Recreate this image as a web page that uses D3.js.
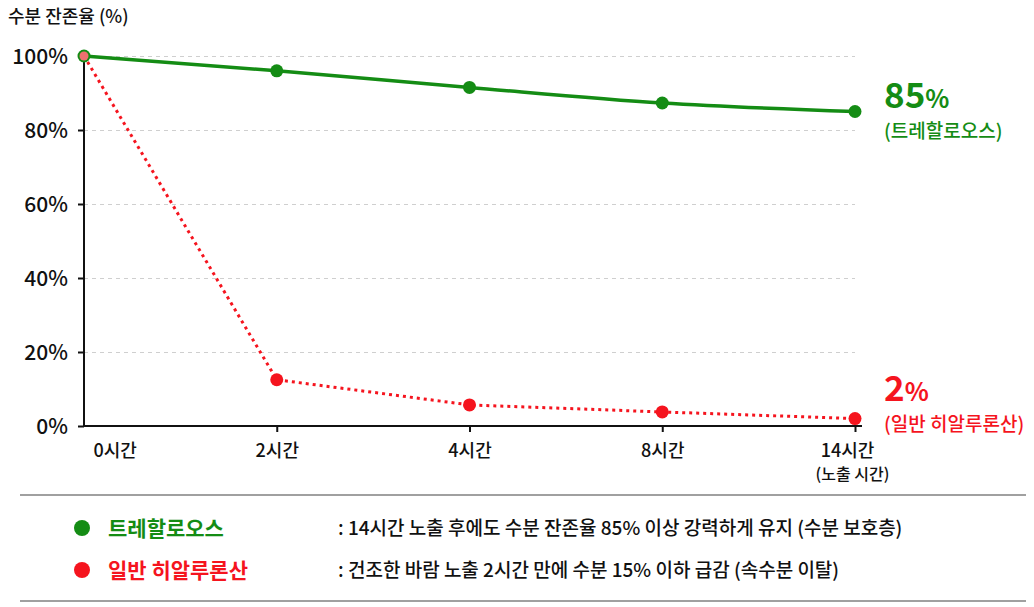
<!DOCTYPE html>
<html>
<head>
<meta charset="utf-8">
<script src="https://cdn.jsdelivr.net/npm/d3@7"></script>
<style>
    body { margin: 0; background: #fff; font-family: "Noto Sans CJK KR", "Noto Sans", sans-serif; }
    .grid line { stroke: #cfcfcf; stroke-dasharray: 4 4; }
    .grid path { display: none; }
    .axis path, .axis line { stroke: #111; stroke-width: 2; }
    .axis text { fill: #111; font-family: "Noto Sans CJK KR", sans-serif; font-weight: 500; }
</style>
</head>
<body>
<div id="chart"></div>
<script>
// Data
const times = ['0시간', '2시간', '4시간', '8시간', '14시간'];
const trehalose = [100, 96, 91.5, 87.3, 85];
const hyaluronic = [100, 12.5, 5.7, 3.8, 2];
const yTicks = [0, 20, 40, 60, 80, 100];
const seriesNames = ['트레할로오스', '일반 히알루론산'];
const seriesNotes = [
    ': 14시간 노출 후에도 수분 잔존율 85% 이상 강력하게 유지 (수분 보호층)',
    ': 건조한 바람 노출 2시간 만에 수분 15% 이하 급감 (속수분 이탈)'
];

const WIDTH = 1034, HEIGHT = 607;
const MARGIN = { left: 84, top: 56, right: 179, bottom: 181 };
const GREEN = '#148c14';
const RED = '#f5141e';

const svg = d3.select('#chart').append('svg')
    .attr('width', WIDTH)
    .attr('height', HEIGHT);

const width = WIDTH - MARGIN.left - MARGIN.right;
const height = HEIGHT - MARGIN.top - MARGIN.bottom;

const g = svg.append('g')
    .attr('transform', `translate(${MARGIN.left},${MARGIN.top})`);

// Scales
const x = d3.scalePoint()
    .domain(times)
    .range([0, width]);

const y = d3.scaleLinear()
    .domain([0, 100])
    .range([height, 0]);

// Grid lines
g.append('g')
    .attr('class', 'grid')
    .call(d3.axisLeft(y)
        .tickValues(yTicks.filter(d => d > 0))
        .tickSize(-width)
        .tickFormat(''));

// Y axis
const yAxis = g.append('g')
    .attr('class', 'axis')
    .call(d3.axisLeft(y)
        .tickValues(yTicks)
        .tickSize(6)
        .tickPadding(10)
        .tickFormat(d => d + '%'));
yAxis.select('.domain').attr('d', `M0,${height}V0`);
yAxis.selectAll('text').style('font-size', '21px').attr('dy', '0.36em');

// X axis
const xAxis = g.append('g')
    .attr('class', 'axis')
    .attr('transform', `translate(0,${height})`)
    .call(d3.axisBottom(x)
        .tickSize(6)
        .tickPadding(12));
xAxis.select('.domain').attr('d', `M0,0H${width + 7}`);
xAxis.selectAll('text').style('font-size', '18px');
const firstTick = xAxis.selectAll('.tick').filter(d => d === times[0]);
firstTick.select('line').remove();
firstTick.select('text').attr('x', 9).style('text-anchor', 'start');
const lastTick = xAxis.selectAll('.tick').filter(d => d === times[times.length - 1]);
lastTick.select('text').attr('x', -8);
lastTick.append('text')
    .attr('x', -3)
    .attr('y', 43)
    .attr('dy', '0.71em')
    .attr('fill', '#111')
    .style('font-size', '16px')
    .text('(노출 시간)');

// Axis title
svg.append('text')
    .attr('x', 8)
    .attr('y', 23)
    .attr('fill', '#111')
    .style('font-size', '18px')
    .style('font-weight', 500)
    .text('수분 잔존율 (%)');

// Lines
const greenData = times.map((t, i) => ({ t, v: trehalose[i] }));
const redData = times.map((t, i) => ({ t, v: hyaluronic[i] }));

const line = d3.line()
    .x(d => x(d.t))
    .y(d => y(d.v));

g.append('path')
    .datum(greenData)
    .attr('d', line.curve(d3.curveMonotoneX))
    .attr('fill', 'none')
    .attr('stroke', GREEN)
    .attr('stroke-width', 3.5);

g.append('path')
    .datum(redData)
    .attr('d', line.curve(d3.curveLinear))
    .attr('fill', 'none')
    .attr('stroke', RED)
    .attr('stroke-width', 3)
    .attr('stroke-dasharray', '3 4');

// Dots
g.selectAll('.dot-green')
    .data(greenData)
    .enter().append('circle')
    .attr('cx', d => x(d.t))
    .attr('cy', d => y(d.v))
    .attr('r', 6.5)
    .attr('fill', GREEN);

g.selectAll('.dot-red')
    .data(redData)
    .enter().append('circle')
    .attr('cx', d => x(d.t))
    .attr('cy', d => y(d.v))
    .attr('r', (d, i) => i === 0 ? 4.5 : 6.5)
    .attr('fill', (d, i) => i === 0 ? '#f07070' : RED);

// End labels
const endLabels = [
    { v: trehalose[trehalose.length - 1], name: seriesNames[0], color: GREEN, dy: 0 },
    { v: hyaluronic[hyaluronic.length - 1], name: seriesNames[1], color: RED, dy: -14 }
];
endLabels.forEach(l => {
    const lab = g.append('g')
        .attr('transform', `translate(${width + 29}, ${y(l.v) + l.dy})`);
    const big = lab.append('text')
        .attr('y', -4)
        .attr('fill', l.color)
        .style('font-weight', 'bold');
    big.append('tspan').style('font-size', '35px').text(Math.round(l.v));
    big.append('tspan').style('font-size', '25px').text('%');
    lab.append('text')
        .attr('y', 26)
        .attr('fill', l.color)
        .style('font-size', '19px')
        .style('font-weight', 500)
        .text(`(${l.name})`);
});

// Legend box
svg.append('line')
    .attr('x1', 20).attr('x2', 1026)
    .attr('y1', 495).attr('y2', 495)
    .attr('stroke', '#a0a0a0').attr('stroke-width', 2);
svg.append('line')
    .attr('x1', 20).attr('x2', 1026)
    .attr('y1', 601).attr('y2', 601)
    .attr('stroke', '#a0a0a0').attr('stroke-width', 2);

const legendColors = [GREEN, RED];
seriesNames.forEach((name, i) => {
    const row = svg.append('g')
        .attr('transform', `translate(0, ${528 + i * 42})`);
    row.append('circle')
        .attr('cx', 82)
        .attr('cy', 0)
        .attr('r', 8)
        .attr('fill', legendColors[i]);
    row.append('text')
        .attr('x', 108)
        .attr('y', 8)
        .attr('fill', legendColors[i])
        .style('font-size', '21px')
        .style('font-weight', 'bold')
        .text(name);
    row.append('text')
        .attr('x', 338)
        .attr('y', 7)
        .attr('fill', '#111')
        .style('font-size', '19px')
        .style('font-weight', 500)
        .text(seriesNotes[i]);
});
</script>
</body>
</html>
